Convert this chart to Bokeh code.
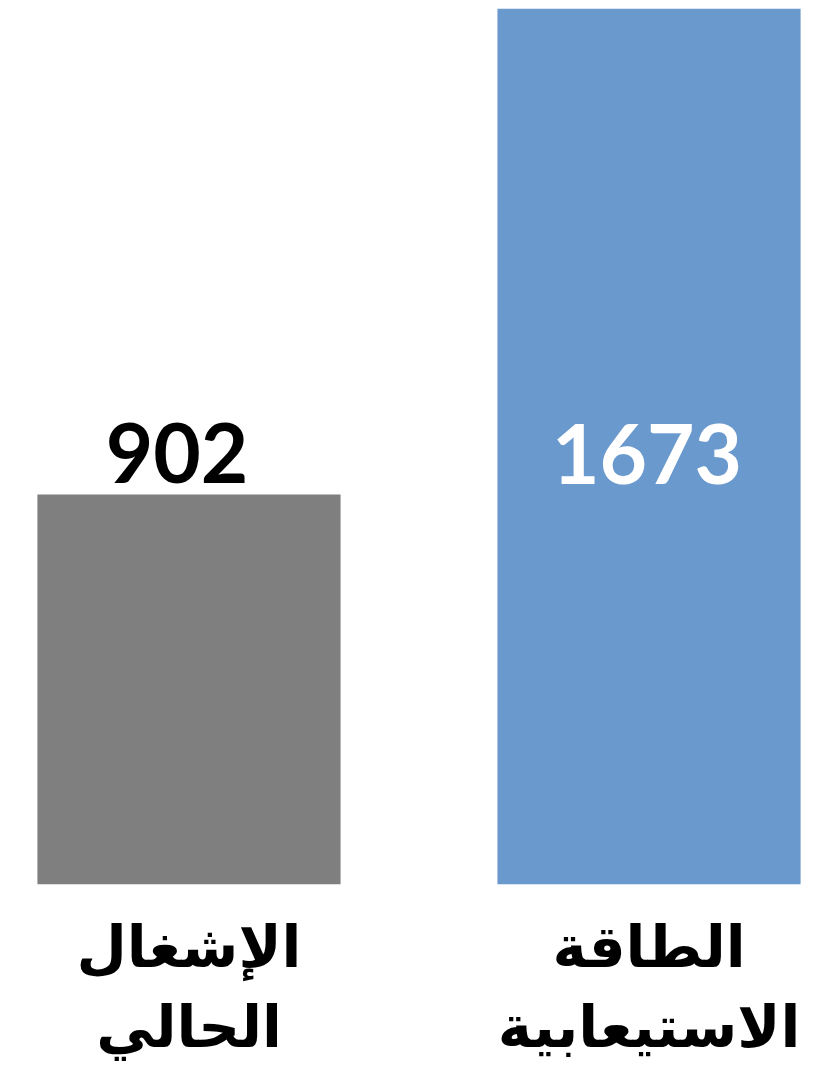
from bokeh.plotting import figure
from bokeh.models import ColumnDataSource, FactorRange, Range1d
from bokeh.core.properties import value
from bokeh.embed import file_html
from bokeh.resources import INLINE

# ---- data ----
categories = ["الإشغال\nالحالي", "الطاقة\nالاستيعابية"]
values = [902, 1673]
value_labels = ["902", "1673"]
bar_colors = ["#7f7f7f", "#6a99ce"]
label_colors = ["#000000", "#ffffff"]
label_xoffsets = [-12, -2]   # px
label_yoffsets = [-12, 475]  # px: above the grey bar, inside the blue bar
axis_min = 283.3
axis_max = 1673

source = ColumnDataSource(dict(
    cat=categories, val=values, txt=value_labels,
    color=bar_colors, tcolor=label_colors,
    xoff=label_xoffsets, yoff=label_yoffsets,
))

p = figure(
    x_range=FactorRange(factors=categories, range_padding=-0.1207),
    y_range=Range1d(axis_min, axis_max),
    width=823, height=1079,
    output_backend="svg", toolbar_location=None,
    y_axis_location=None,
    min_border_left=14, min_border_right=0, min_border_top=8, min_border_bottom=195,
)

p.vbar(x="cat", top="val", bottom=0, width=0.659, color="color",
       line_color=None, source=source)

p.text(x="cat", y="val", text="txt", source=source,
       text_color="tcolor", text_align="center", text_baseline="bottom",
       x_offset="xoff", y_offset="yoff", text_font=value("Lato"),
       text_font_style="bold", text_font_size="82px")

p.xgrid.visible = False
p.ygrid.visible = False
p.outline_line_color = None
p.background_fill_color = "white"
p.border_fill_color = "white"

ax = p.xaxis[0]
ax.axis_line_color = None
ax.major_tick_line_color = None
ax.minor_tick_line_color = None
ax.major_label_standoff = 22
ax.major_label_text_font = "DejaVu Sans"
ax.major_label_text_font_style = "bold"
ax.major_label_text_font_size = "58px"
ax.major_label_text_color = "#000000"
ax.major_label_text_line_height = 1.18

open("out.html", "w").write(file_html(p, INLINE))
